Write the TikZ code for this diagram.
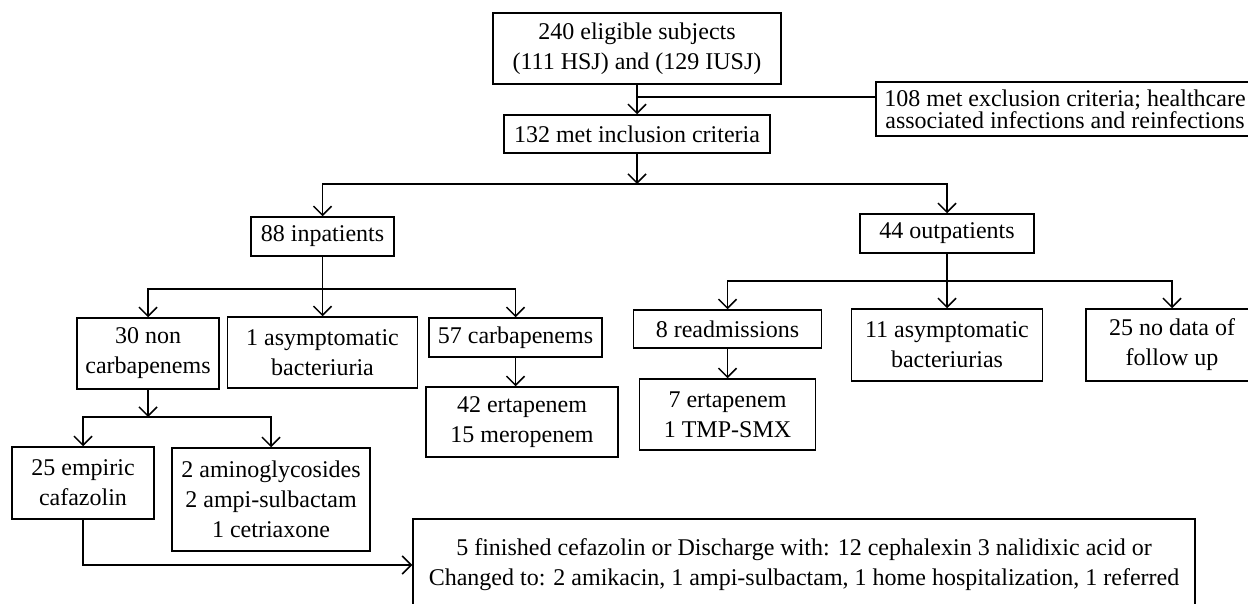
\documentclass[tikz,border=0pt]{standalone}
\usepackage{fontspec}
\setmainfont{Liberation Serif}
\usetikzlibrary{arrows.meta}

\begin{document}
\begin{tikzpicture}[x=0.5pt,y=-0.5pt]
   \fontsize{12pt}{15pt}\selectfont
    % --- STYLES ---
    \tikzstyle{box} = [rectangle, draw=black, line width=0.75pt, align=center, inner sep=0pt]
    \tikzstyle{flow} = [-{Straight Barb[length=4.5pt,width=9pt]}, line width=0.75pt]
    \tikzstyle{link} = [line width=0.75pt]

    \useasboundingbox (0,0) rectangle (1248,604);

    % --- NODES ---
    % top of the chart
    \node (elig)   [box, minimum width=144pt, minimum height=35.5pt] at (637,48.5) {240 eligible subjects\\(111 HSJ) and (129 IUSJ)};
    \node (incl)   [box, minimum width=133pt, minimum height=19pt] at (637,134) {132 met inclusion criteria};
    \node (excl)   [box, minimum width=189pt, minimum height=27pt, font=\fontsize{12pt}{11pt}\selectfont] at (1065,109) {108 met exclusion criteria; healthcare\\associated infections and reinfections};

    % inpatients / outpatients
    \node (inpat)  [box, minimum width=71.5pt, minimum height=19.5pt] at (322.5,236.5) {88 inpatients};
    \node (outpat) [box, minimum width=87pt, minimum height=19.5pt] at (947,233.5) {44 outpatients};

    % inpatient branch
    \node (noncarb) [box, minimum width=71pt, minimum height=35.5pt] at (148,353.5) {30 non\\carbapenems};
    \node (asym1)   [box, minimum width=95pt, minimum height=35.5pt] at (322.5,352.5) {1 asymptomatic\\bacteriuria};
    \node (carb)    [box, minimum width=86.5pt, minimum height=19.5pt] at (515.5,337.5) {57 carbapenems};
    \node (erta)    [box, minimum width=96pt, minimum height=35pt] at (522,422) {42 ertapenem\\15 meropenem};
    \node (empiric) [box, minimum width=71pt, minimum height=36pt] at (83,483) {25 empiric\\cafazolin};
    \node (amino)   [box, minimum width=99pt, minimum height=51.5pt] at (271,499.5) {2 aminoglycosides\\2 ampi-sulbactam\\1 cetriaxone};

    % outpatient branch
    \node (readm)  [box, minimum width=94pt, minimum height=19pt] at (727.5,329) {8 readmissions};
    \node (ertsmx) [box, minimum width=88pt, minimum height=35.5pt] at (727.5,414.5) {7 ertapenem\\1 TMP-SMX};
    \node (asym11) [box, minimum width=95.5pt, minimum height=36pt] at (947,345) {11 asymptomatic\\bacteriurias};
    \node (nodata) [box, minimum width=86pt, minimum height=36pt] at (1172,345) {25 no data of\\follow up};

    % outcome of cefazolin
    \node (final)  [box, minimum width=391pt, minimum height=46pt] at (804,565) {5 finished cefazolin or Discharge with: 12 cephalexin 3 nalidixic acid or\\Changed to: 2 amikacin, 1 ampi-sulbactam, 1 home hospitalization, 1 referred};

    \coordinate (j0) at (637,97);
    \coordinate (s1) at (637,184);
    \coordinate (s2) at (322.5,289);
    \coordinate (s3) at (947,281);
    \coordinate (s4) at (148,417);

    % --- ARROWS ---
    \draw[flow] (elig) -- (incl);
    \draw[link] (j0) -- (j0 -| excl.west);

    \draw[flow] (incl) -- (s1);
    \draw[flow] (s1) -| (inpat);
    \draw[flow] (s1) -| (outpat);

    % inpatients
    \draw[flow] (inpat) -- (asym1);
    \draw[flow] (s2) -| (noncarb);
    \draw[flow] (s2) -| (carb);
    \draw[flow] (carb) -- (carb.south |- erta.north);
    \draw[flow] (noncarb) -- (s4);
    \draw[flow] (s4) -| (empiric);
    \draw[flow] (s4) -| (amino);
    \draw[flow] (empiric) |- (final);

    % outpatients
    \draw[flow] (outpat) -- (asym11);
    \draw[flow] (s3) -| (readm);
    \draw[flow] (s3) -| (nodata);
    \draw[flow] (readm) -- (ertsmx);

  \end{tikzpicture}
\end{document}
